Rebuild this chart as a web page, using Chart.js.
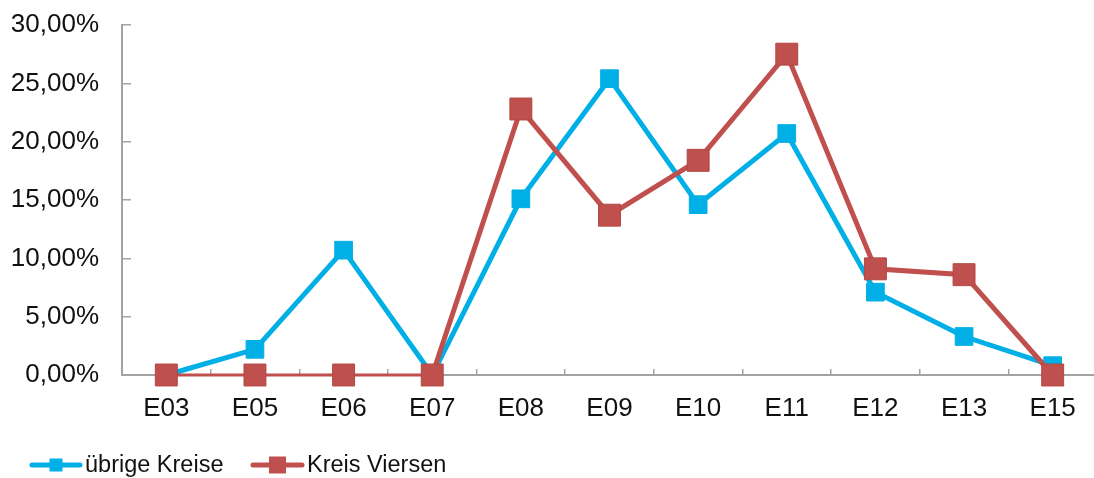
<!DOCTYPE html>
<html lang="de">
<head>
<meta charset="utf-8">
<title>Anteile nach Entgeltgruppe</title>
<script src="https://cdn.jsdelivr.net/npm/chart.js@4.4.1/dist/chart.umd.min.js"></script>
<style>
  html, body { margin: 0; padding: 0; background: #ffffff; overflow: hidden; }
  #wrap { position: relative; width: 1097px; height: 478px; }
</style>
</head>
<body>
<div id="wrap"><canvas id="chart"></canvas></div>
<script>
// Entgeltgruppen (x-axis categories)
const categories = ['E03', 'E05', 'E06', 'E07', 'E08', 'E09', 'E10', 'E11', 'E12', 'E13', 'E15'];

// Shares in percent
const uebrigeKreise = [0, 2.2, 10.7, 0, 15.1, 25.4, 14.6, 20.7, 7.1, 3.3, 0.8];
const kreisViersen  = [0, 0, 0, 0, 22.8, 13.7, 18.4, 27.5, 9.1, 8.6, 0];

// Series names
const seriesNames = ['übrige Kreise', 'Kreis Viersen'];

// Y-axis range and step (percent)
const yMin = 0;
const yMax = 30;
const yStep = 5;

const FONT = "'Liberation Sans', Arial, sans-serif";
const BLUE = '#00AFE6';
const RED = '#C0504D';
const AXIS = '#A3A3A3';

const fmtPct = v => v.toFixed(2).replace('.', ',') + '%';

// Legend drawn under the plot: a short line with the series marker, then the name
const lineLegend = {
  id: 'lineLegend',
  afterDraw(chart) {
    const ctx = chart.ctx;
    const items = [
      { x: 32, len: 48, box: 13 },
      { x: 253, len: 49, box: 17 }
    ];
    const y = 465;
    ctx.save();
    chart.data.datasets.forEach((ds, i) => {
      const it = items[i];
      ctx.strokeStyle = ds.borderColor;
      ctx.lineWidth = 5;
      ctx.lineCap = 'round';
      ctx.beginPath();
      ctx.moveTo(it.x, y);
      ctx.lineTo(it.x + it.len, y);
      ctx.stroke();
      const cx = it.x + it.len / 2;
      ctx.fillStyle = ds.pointBackgroundColor;
      ctx.fillRect(cx - it.box / 2, y - it.box / 2, it.box, it.box);
      ctx.fillStyle = '#111111';
      ctx.font = '23.5px ' + FONT;
      ctx.textBaseline = 'middle';
      ctx.textAlign = 'left';
      ctx.fillText(ds.label, it.x + it.len + 5, y + 1);
    });
    ctx.restore();
  }
};

new Chart(document.getElementById('chart'), {
  type: 'line',
  data: {
    labels: categories,
    datasets: [
      {
        label: seriesNames[0],
        data: uebrigeKreise,
        borderColor: BLUE,
        borderWidth: 5,
        pointStyle: 'rect',
        pointRadius: 12.5,
        pointHoverRadius: 12.5,
        pointBackgroundColor: BLUE,
        pointBorderColor: BLUE,
        pointBorderWidth: 1,
        tension: 0,
        clip: false,
        order: 2
      },
      {
        label: seriesNames[1],
        data: kreisViersen,
        borderColor: RED,
        borderWidth: 5,
        segment: {
          borderWidth: c => (c.p0.parsed.y === 0 && c.p1.parsed.y === 0) ? 3 : 5
        },
        pointStyle: 'rect',
        pointRadius: 15.5,
        pointHoverRadius: 15.5,
        pointBackgroundColor: RED,
        pointBorderColor: '#B24743',
        pointBorderWidth: 1,
        tension: 0,
        clip: false,
        order: 1
      }
    ]
  },
  options: {
    responsive: true,
    maintainAspectRatio: false,
    animation: false,
    layout: { autoPadding: false, padding: { top: 25, left: 0, right: 0, bottom: 0 } },
    plugins: {
      legend: { display: false },
      tooltip: { enabled: false }
    },
    scales: {
      x: {
        type: 'category',
        offset: true,
        grid: {
          offset: true,
          drawOnChartArea: false,
          drawTicks: true,
          tickLength: -6,
          color: AXIS,
          lineWidth: 1.5
        },
        border: { display: true, color: AXIS, width: 2 },
        ticks: {
          color: '#111111',
          font: { family: FONT, size: 26 },
          padding: 24,
          maxRotation: 0,
          autoSkip: false
        },
        afterFit(scale) {
          scale.height = 103;
          scale.paddingLeft = 0;
          scale.paddingRight = 0;
        }
      },
      y: {
        min: yMin,
        max: yMax,
        grid: {
          drawOnChartArea: false,
          drawTicks: true,
          tickLength: -9,
          color: AXIS,
          lineWidth: 1.5
        },
        border: { display: true, color: AXIS, width: 2 },
        ticks: {
          stepSize: yStep,
          color: '#111111',
          font: { family: FONT, size: 26 },
          padding: 32,
          callback: v => fmtPct(v)
        },
        afterFit(scale) {
          scale.width = 122;
          scale.paddingTop = 0;
          scale.paddingBottom = 0;
        }
      }
    }
  },
  plugins: [lineLegend]
});
</script>
</body>
</html>
